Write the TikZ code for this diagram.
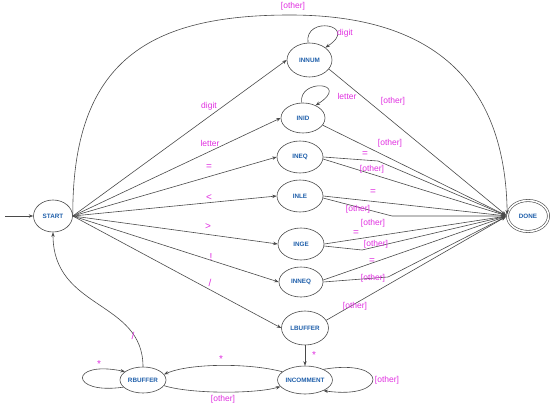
\documentclass[tikz,border=0pt]{standalone}
\usepackage{fontspec}
\setmainfont{Liberation Sans}
\usetikzlibrary{shapes.geometric,arrows.meta}
\definecolor{stc}{HTML}{1F5FAA}
\definecolor{lbc}{HTML}{E030E0}
\definecolor{lnc}{HTML}{4A4A4A}
\begin{document}
\begin{tikzpicture}[x=1pt,y=-1pt,
  state/.style={ellipse,draw=lnc,line width=0.6pt,inner sep=0pt,text=stc,
    font=\fontsize{6.3}{7}\selectfont\bfseries},
  lbl/.style={text=lbc,font=\fontsize{8.5}{10}\selectfont,inner sep=0pt},
  sym/.style={text=lbc,font=\fontsize{10}{12}\selectfont,inner sep=0pt},
  edge/.style={draw=lnc,line width=0.6pt,-{Stealth[length=4.5pt,width=3.4pt]}}]
\useasboundingbox (0,0) rectangle (554,409);
% states
\node[state,minimum width=39pt,minimum height=32pt] (START) at (53,216) {START};
\node[state,minimum width=45pt,minimum height=34pt] (INNUM) at (309.5,60) {INNUM};
\node[state,minimum width=44pt,minimum height=30pt] (INID) at (303,118) {INID};
\node[state,minimum width=46pt,minimum height=32pt] (INEQ) at (300,157) {INEQ};
\node[state,minimum width=46pt,minimum height=32pt] (INLE) at (300,196) {INLE};
\node[state,minimum width=46pt,minimum height=32pt] (INGE) at (301,244) {INGE};
\node[state,minimum width=44pt,minimum height=30pt] (INNEQ) at (301,282) {INNEQ};
\node[state,minimum width=47pt,minimum height=34pt] (LBUFFER) at (305,328) {LBUFFER};
\node[state,minimum width=48pt,minimum height=28pt] (INCOMMENT) at (305,380) {INCOMMENT};
\node[state,minimum width=46pt,minimum height=26pt] (RBUFFER) at (143,380) {RBUFFER};
\node[state,double=white,double distance=1.6pt,minimum width=41pt,minimum height=31pt] (DONE) at (528,216) {DONE};
% helper coordinates
\coordinate (in) at (5,216);
\coordinate (arctop) at (290,15);
\coordinate (b1) at (378,161);
\coordinate (b2) at (392,216);
\coordinate (b3) at (362,250);
\coordinate (b4) at (388,277);
% start arrow
\draw[edge] (in) -- (START.west);
% from START
\draw[edge] (START.east) -- (INNUM.west);
\draw[edge] (START.east) -- (INID.west);
\draw[edge] (START.east) -- (INEQ.west);
\draw[edge] (START.east) -- (INLE.west);
\draw[edge] (START.east) -- (INGE.west);
\draw[edge] (START.east) -- (INNEQ.west);
\draw[edge] (START.east) -- (LBUFFER.west);
% big arc
\draw[edge,shorten >=1.5pt] (START.east) .. controls (72,60) and (150,15) .. (arctop)
   .. controls (420,15) and (505,70) .. (DONE.west);
% self loops
\draw[edge] (INNUM.95) .. controls (304,15) and (360,25) .. (INNUM.38);
\draw[edge] (INID.95) .. controls (298,78) and (352,82) .. (INID.45);
% to DONE
\draw[edge,shorten >=1.5pt] (INNUM.-25) -- (DONE.west);
\draw[edge,shorten >=1.5pt] (INID.-20) -- (DONE.west);
\draw[edge,shorten >=1.5pt] (INEQ.east) -- (b1) -- (DONE.west);
\draw[edge,shorten >=1.5pt] (INEQ.-5) -- (DONE.west);
\draw[edge,shorten >=1.5pt] (INLE.east) -- (DONE.west);
\draw[edge,shorten >=1.5pt] (INLE.-5) -- (b2) -- (DONE.west);
\draw[edge,shorten >=1.5pt] (INGE.east) -- (DONE.west);
\draw[edge,shorten >=1.5pt] (INGE.-5) -- (b3) -- (DONE.west);
\draw[edge,shorten >=1.5pt] (INNEQ.5) -- (DONE.west);
\draw[edge,shorten >=1.5pt] (INNEQ.east) -- (b4) -- (DONE.west);
\draw[edge,shorten >=1.5pt] (LBUFFER.20) -- (DONE.west);
% comment part
\draw[edge] (LBUFFER.south) -- (INCOMMENT.north);
\draw[edge] (INCOMMENT.160) .. controls (250,363) and (190,363) .. (RBUFFER.15);
\draw[edge] (RBUFFER.-15) .. controls (190,394) and (255,394) .. (INCOMMENT.195);
\draw[edge] (INCOMMENT.30) .. controls (389,358) and (389,400) .. (INCOMMENT.-30);
\draw[edge] (RBUFFER.200) .. controls (69,395) and (69,360) .. (RBUFFER.155);
\draw[edge] (RBUFFER.north) .. controls (143,300) and (53,310) .. (START.south);
% labels
\node[lbl] (l0) at (293,6) {[other]};
\node[lbl] (l1) at (209,106) {digit};
\node[lbl] (l2) at (210,143) {letter};
\node[sym] (l3) at (209,167) {=};
\node[sym] (l4) at (209,198) {<};
\node[sym] (l5) at (208,227) {>};
\node[sym] (l6) at (211,257) {!};
\node[sym] (l7) at (210,283) {/};
\node[lbl] (l8) at (345,33) {digit};
\node[lbl] (l9) at (347,96) {letter};
\node[lbl] (l10) at (393,101) {[other]};
\node[lbl] (l11) at (390,143) {[other]};
\node[sym] (l12) at (365,154) {=};
\node[lbl] (l13) at (372,169) {[other]};
\node[sym] (l14) at (373,192) {=};
\node[lbl] (l15) at (358,209) {[other]};
\node[lbl] (l16) at (373,223) {[other]};
\node[sym] (l17) at (356,233) {=};
\node[lbl] (l18) at (376,244) {[other]};
\node[sym] (l19) at (372,261) {=};
\node[lbl] (l20) at (373,278) {[other]};
\node[lbl] (l21) at (355,306) {[other]};
\node[sym] (l22) at (314,355) {*};
\node[sym] (l23) at (221,359) {*};
\node[lbl] (l24) at (223,399) {[other]};
\node[lbl] (l25) at (387,380) {[other]};
\node[sym] (l26) at (99,364) {*};
\node[sym] (l27) at (133,336) {/};
\end{tikzpicture}
\end{document}
